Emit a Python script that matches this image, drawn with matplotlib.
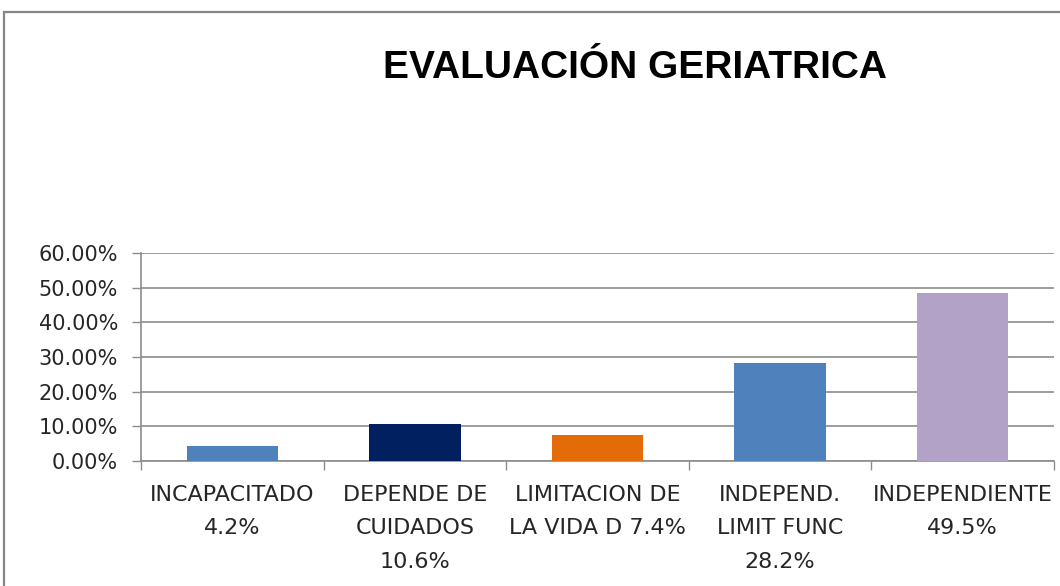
import matplotlib.pyplot as plt
from matplotlib.patches import Rectangle

# data
categories = ["INCAPACITADO\n4.2%", "DEPENDE DE\nCUIDADOS\n10.6%", "LIMITACION DE\nLA VIDA D 7.4%",
              "INDEPEND.\nLIMIT FUNC\n28.2%", "INDEPENDIENTE\n49.5%"]
values = [4.2, 10.6, 7.4, 28.2, 48.4]
colors = ["#4F81BD", "#002060", "#E36C09", "#4F81BD", "#B2A2C7"]
yticks = [0, 10, 20, 30, 40, 50, 60]

W, H = 1060, 586
fig = plt.figure(figsize=(W / 100, H / 100), dpi=100)

# outer chart frame (cut off at right and bottom)
fig.patches.append(Rectangle((4 / W, -0.1), 1.2, 1.1 - 12 / H, transform=fig.transFigure,
                             fill=False, edgecolor="#868686", linewidth=1.6))

ax = fig.add_axes([141 / W, 1 - 461 / H, (1054 - 141) / W, (461 - 253) / H])
x = range(len(values))
ax.bar(x, values, width=0.5, color=colors, zorder=3)

ax.set_xlim(-0.5, len(values) - 0.5)
ax.set_ylim(0, 60)
ax.set_yticks(yticks)
ax.set_yticklabels([f"{v:.2f}%" for v in yticks], fontsize=15, color="#262626")
ax.yaxis.grid(True, color="#8c8c8c", linewidth=1.2, zorder=0)

ax.set_xticks(list(x))
ax.set_xticklabels(categories, fontsize=16, linespacing=1.85, va="top", color="#262626")
ax.set_xticks([i - 0.5 for i in range(len(values) + 1)], minor=True)
ax.tick_params(axis="x", which="major", length=0, pad=17)
ax.tick_params(axis="x", which="minor", length=6.5, color="#8c8c8c", width=1)
ax.tick_params(axis="y", length=6.5, color="#8c8c8c", width=1, pad=10)

for s in ["top", "right"]:
    ax.spines[s].set_visible(False)
for s in ["left", "bottom"]:
    ax.spines[s].set_color("#8c8c8c")
    ax.spines[s].set_linewidth(1.2)

fig.text(635 / W, 1 - 78 / H, "EVALUACIÓN GERIATRICA", ha="center", va="baseline",
         fontsize=28, fontweight="bold", family=["Liberation Sans", "DejaVu Sans"], color="black")

fig.savefig("out.png", dpi=100)
